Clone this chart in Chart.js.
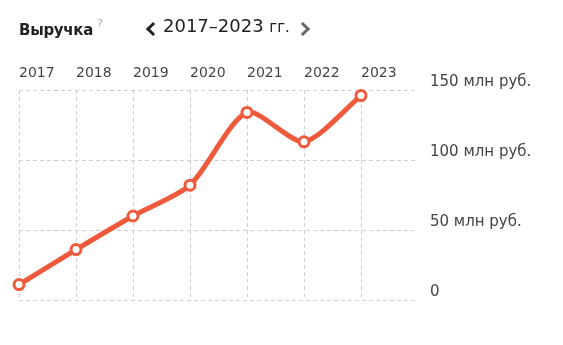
<!DOCTYPE html>
<html>
<head>
<meta charset="utf-8">
<script src="https://cdn.jsdelivr.net/npm/chart.js@4"></script>
<style>
  body { margin: 0; background: #fff; font-family: "DejaVu Sans", sans-serif; }
  #wrap { position: relative; width: 563px; height: 345px; }
  #head { position: absolute; left: 19px; top: 17px; white-space: nowrap; color: #222; }
  #head .title { font-weight: bold; font-size: 15px; letter-spacing: -0.3px; }
  #head .hint { font-size: 11px; color: #aaa; vertical-align: 8px; margin-left: 4px; }
  #head .range { position: absolute; left: 144px; top: -2px; font-size: 18px; color: #222; }
  #head .unit { font-size: 15px; }
  .chev { position: absolute; width: 7px; height: 7px; border-left: 3px solid #222; border-bottom: 3px solid #222; }
  .chev.prev { left: 129px; top: 7px; transform: rotate(45deg); }
  .chev.next { left: 279px; top: 7px; transform: rotate(-135deg); border-color: #666; }
  #box { position: absolute; left: 0; top: 0; width: 563px; height: 345px; }
</style>
</head>
<body>
<div id="wrap">
  <div id="box"><canvas id="revenueChart"></canvas></div>
  <div id="head">
    <span class="title">Выручка</span><span class="hint">?</span>
    <span class="chev prev"></span>
    <span class="range">2017–2023 <span class="unit">гг.</span></span>
    <span class="chev next"></span>
  </div>
</div>
<script>
const years = ['2017', '2018', '2019', '2020', '2021', '2022', '2023'];
const revenue = [11, 36, 60, 82, 134, 113, 146]; // млн руб.
const yTicks = [0, 50, 100, 150];

// extra empty slot on the right so the grid runs past the last year
const labels = years.concat(['']);
const values = revenue.concat([null]);

const ctx = document.getElementById('revenueChart').getContext('2d');
const lineColor = '#ef5a3c';

new Chart(ctx, {
    type: 'line',
    data: {
        labels: labels,
        datasets: [{
            data: values,
            borderColor: lineColor,
            borderWidth: 5,
            tension: 0.25,
            pointRadius: 5,
            pointBorderWidth: 3,
            pointBackgroundColor: '#fff',
            pointBorderColor: lineColor,
            clip: false
        }]
    },
    options: {
        responsive: true,
        maintainAspectRatio: false,
        animation: false,
        layout: { padding: { left: 19, top: 60, bottom: 45, right: 0 } },
        plugins: { legend: { display: false }, tooltip: { enabled: false } },
        scales: {
            x: {
                position: 'top',
                offset: false,
                grid: {
                    drawTicks: false,
                    color: c => c.index === years.length ? 'rgba(0,0,0,0)' : '#cfcfcf',
                    lineWidth: 1
                },
                border: { display: false, dash: [4, 3] },
                ticks: {
                    align: 'start',
                    padding: 8,
                    color: '#444',
                    font: { family: 'DejaVu Sans', size: 14 },
                    maxRotation: 0,
                    autoSkip: false
                },
                afterFit: s => { s.height = 30; }
            },
            y: {
                position: 'right',
                min: 0,
                max: 150,
                afterBuildTicks: s => { s.ticks = yTicks.map(v => ({ value: v })); },
                border: { display: false, dash: [4, 3] },
                grid: { drawTicks: false, color: '#cfcfcf', lineWidth: 1 },
                ticks: {
                    padding: 12,
                    labelOffset: -8,
                    color: '#444',
                    font: { family: 'DejaVu Sans', size: 15 },
                    callback: v => v === 0 ? '0' : v + ' млн руб.'
                },
                afterFit: s => { s.width = 145; }
            }
        }
    }
});
</script>
</body>
</html>
